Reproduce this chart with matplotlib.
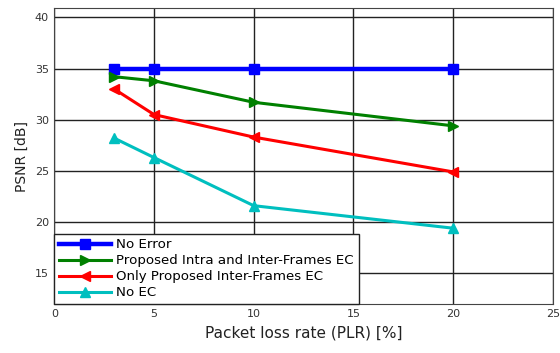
import matplotlib
matplotlib.use("Agg")
import matplotlib.pyplot as plt

# данные
plr = [3, 5, 10, 20]
no_error = [35, 35, 35, 35]
intra_inter = [34.2, 33.8, 31.7, 29.4]
inter_only = [33.0, 30.5, 28.3, 24.9]
no_ec = [28.2, 26.3, 21.6, 19.4]

labels = ["No Error", "Proposed Intra and Inter-Frames EC",
          "Only Proposed Inter-Frames EC", "No EC"]
xticks = [0, 5, 10, 15, 20, 25]
yticks = [15, 20, 25, 30, 35, 40]

fig = plt.figure(figsize=(5.6, 3.53), dpi=100)
ax = fig.add_axes([0.097, 0.139, 0.89, 0.838])

ax.plot(plr, no_error, color="#0000ff", marker="s", ms=7.5, lw=3.2, label=labels[0])
ax.plot(plr, intra_inter, color="#008000", marker=">", ms=7.5, lw=2.2, label=labels[1])
ax.plot(plr, inter_only, color="#ff0000", marker="<", ms=7.5, lw=2.2, label=labels[2])
ax.plot(plr, no_ec, color="#00bfbf", marker="^", ms=7.5, lw=2.2, label=labels[3])

ax.set_xlim(0, 25)
ax.set_ylim(12, 40.9)
ax.set_xticks(xticks)
ax.set_yticks(yticks)
ax.grid(True, color="#222222", lw=1.0)
ax.set_axisbelow(True)
ax.tick_params(labelsize=8, colors="#333333", length=0, pad=4)
for s in ax.spines.values():
    s.set_color("#444444")

ax.set_xlabel("Packet loss rate (PLR) [%]", fontsize=11, color="#222222")
ax.set_ylabel("PSNR [dB]", fontsize=10, color="#222222", labelpad=4)

leg = ax.legend(loc="lower left", fontsize=9.6, frameon=True, fancybox=False,
                borderaxespad=0, handlelength=3.9, labelspacing=0.22,
                borderpad=0.35, handletextpad=0.4)
leg.get_frame().set_edgecolor("#222222")
leg.get_frame().set_linewidth(1.0)
leg.get_frame().set_alpha(1)

plt.savefig("out.png", dpi=100)
plt.close()
